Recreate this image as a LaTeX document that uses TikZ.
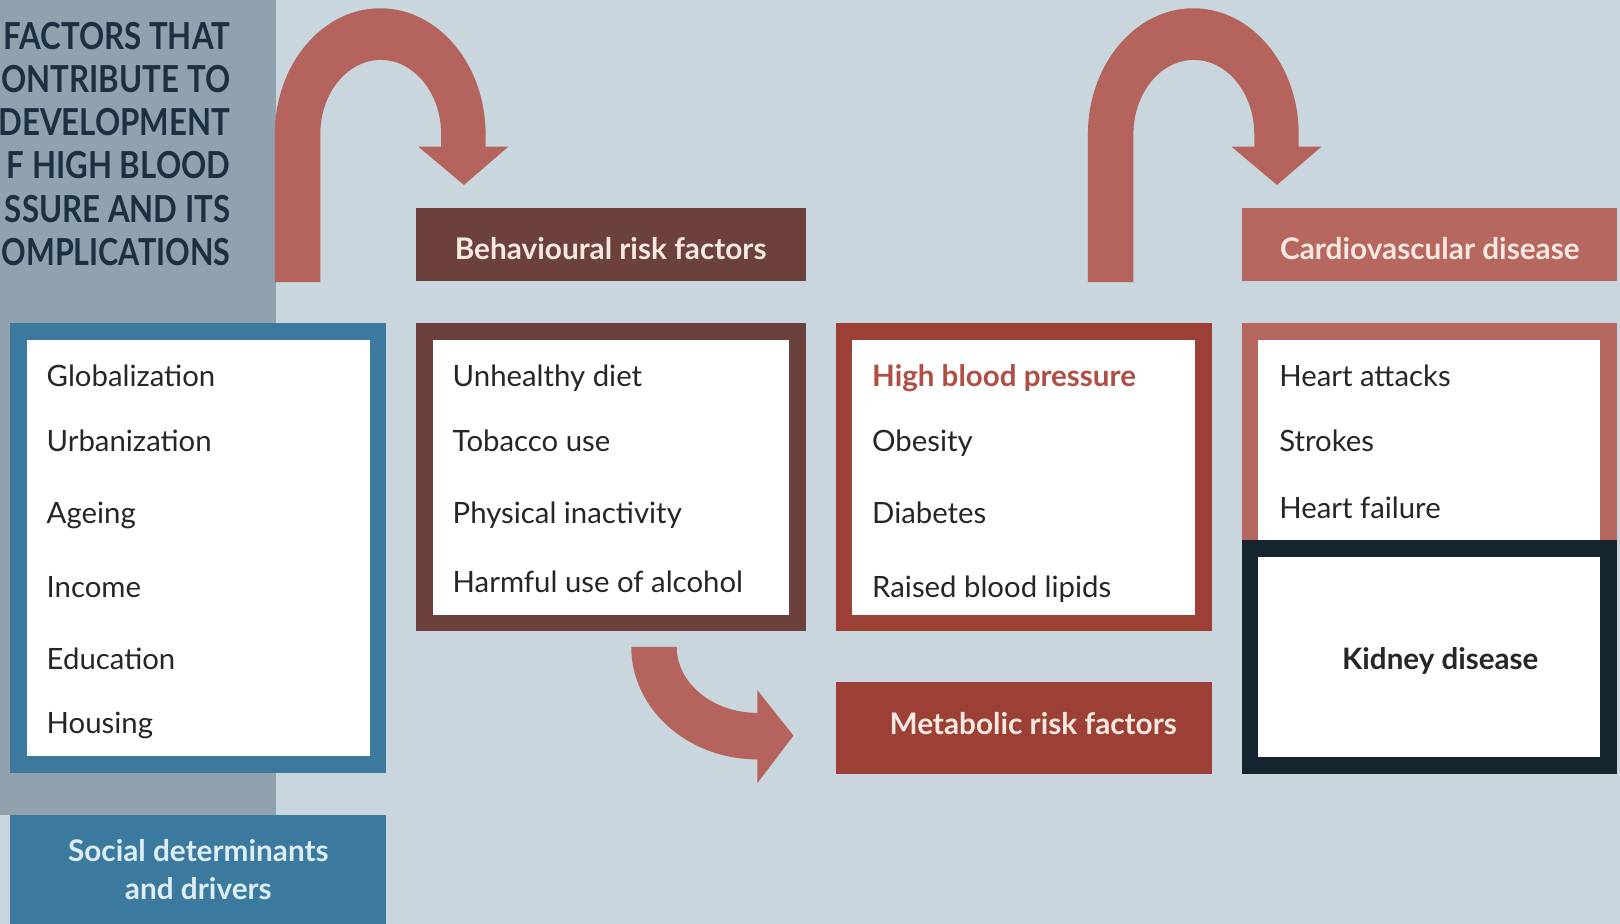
\documentclass[tikz,border=0pt]{standalone}
\usepackage{fontspec}
\setmainfont{Lato}
\definecolor{bgc}{HTML}{C9D6DD}
\definecolor{panelc}{HTML}{8FA2AE}
\definecolor{titlec}{HTML}{1D3042}
\definecolor{socc}{HTML}{3B7A9E}
\definecolor{behc}{HTML}{6C403D}
\definecolor{metc}{HTML}{9C4035}
\definecolor{cvdc}{HTML}{B6675F}
\definecolor{kidc}{HTML}{14252F}
\definecolor{arrc}{HTML}{B4645D}
\definecolor{hdtext}{HTML}{F7E9E1}
\definecolor{soctext}{HTML}{DDEEF7}
\definecolor{itemc}{HTML}{262626}
\definecolor{hbpc}{HTML}{B04E44}
\newcommand{\tline}[2][0.84]{\scalebox{#1}[1]{#2}}
\tikzset{
  titleline/.style={anchor=base east, inner sep=0, text=titlec, font=\bfseries\fontsize{36}{42}\selectfont},
  listbox/.style={rectangle, fill=white, line width=16pt, inner sep=0},
  hdbox/.style={rectangle, inner sep=0},
  item/.style={anchor=base west, inner sep=0, text=itemc, font=\fontsize{28.4}{34}\selectfont},
  hdtextstyle/.style={anchor=base, inner sep=0, text=hdtext, font=\bfseries\fontsize{28.8}{34}\selectfont},
  uturn/.pic={
    \fill[arrc] (266,273) -- (266,130) arc[start angle=180, end angle=360, x radius=102, y radius=122]
      -- (470,142) -- (492,142) -- (449,179) -- (405,142) -- (427,142) -- (427,130)
      arc[start angle=0, end angle=-180, x radius=58.5, y radius=72] -- (310,273) -- cycle;
  }
}
\begin{document}
\begin{tikzpicture}[x=1pt, y=-1pt]
\useasboundingbox (0,0) rectangle (1568,894);
\begin{scope}
\clip (0,0) rectangle (1568,894);
\fill[bgc] (0,0) rectangle (1568,894);
\fill[panelc] (0,0) rectangle (267,789);
% title
\node[titleline] (t1) at (223,48) {\tline{FACTORS THAT}};
\node[titleline] (t2) at (223,90) {\tline{ONTRIBUTE TO}};
\node[titleline] (t3) at (223,131) {\tline{DEVELOPMENT}};
\node[titleline] (t4) at (223,173) {\tline{F HIGH BLOOD}};
\node[titleline] (t5) at (223,215) {\tline{SSURE AND ITS}};
\node[titleline] (t6) at (223,257) {\tline[0.82]{OMPLICATIONS}};
% arrows
\pic (ua1) at (0,0) {uturn};
\pic (ua2) at (787,0) {uturn};
\fill[arrc] (611,626) arc[start angle=180, end angle=90, x radius=122, y radius=109]
  -- (733,758) -- (768,712) -- (733,668) -- (733,690)
  arc[start angle=90, end angle=180, x radius=78, y radius=64] -- cycle;
% social determinants
\node[listbox, draw=socc, minimum width=348, minimum height=419] (soc) at (192,530.5) {};
\node[item] (s1) at (45,374) {Globalization};
\node[item] (s2) at (45,437) {Urbanization};
\node[item] (s3) at (45,507) {Ageing};
\node[item] (s4) at (45,578) {Income};
\node[item] (s5) at (45,648) {Education};
\node[item] (s6) at (45,710) {Housing};
\fill[socc] (10,789) rectangle (374,894);
\node[anchor=base, inner sep=0, text=soctext, font=\bfseries\fontsize{28.8}{34}\selectfont] (sochd) at (192,834) {Social determinants};
\node[anchor=base, inner sep=0, text=soctext, font=\bfseries\fontsize{28.8}{34}\selectfont] (sochd2) at (192,871) {and drivers};
% behavioural
\node[hdbox, fill=behc, minimum width=377, minimum height=71] (behhd) at (591.5,236.5) {};
\node[hdtextstyle] (behhdt) at (591,251) {Behavioural risk factors};
\node[listbox, draw=behc, minimum width=361, minimum height=282] (beh) at (591.5,462) {};
\node[item] (b1) at (438,374) {Unhealthy diet};
\node[item] (b2) at (438,437) {Tobacco use};
\node[item] (b3) at (438,507) {Physical inactivity};
\node[item] (b4) at (438,573) {Harmful use of alcohol};
% metabolic
\node[listbox, draw=metc, minimum width=348, minimum height=282] (met) at (991,462) {};
\node[item, text=hbpc, font=\bfseries\fontsize{28.6}{34}\selectfont] (m1) at (844,374) {High blood pressure};
\node[item] (m2) at (844,437) {Obesity};
\node[item] (m3) at (844,507) {Diabetes};
\node[item] (m4) at (844,578) {Raised blood lipids};
\node[hdbox, fill=metc, minimum width=364, minimum height=89] (methd) at (991,704.5) {};
\node[hdtextstyle] (methdt) at (1000,711) {Metabolic risk factors};
% cardiovascular
\node[hdbox, fill=cvdc, minimum width=363, minimum height=71] (cvdhd) at (1383.5,236.5) {};
\node[hdtextstyle] (cvdhdt) at (1384,251) {Cardiovascular disease};
\node[listbox, draw=cvdc, minimum width=347, minimum height=218] (cvd) at (1383.5,430) {};
\node[item] (c1) at (1238,374) {Heart attacks};
\node[item] (c2) at (1238,437) {Strokes};
\node[item] (c3) at (1238,502) {Heart failure};
\node[listbox, draw=kidc, minimum width=347, minimum height=210] (kid) at (1383.5,636) {};
\node[anchor=base, inner sep=0, text=itemc, font=\bfseries\fontsize{28.6}{34}\selectfont] (kidt) at (1394,648) {Kidney disease};
\end{scope}
\end{tikzpicture}
\end{document}
